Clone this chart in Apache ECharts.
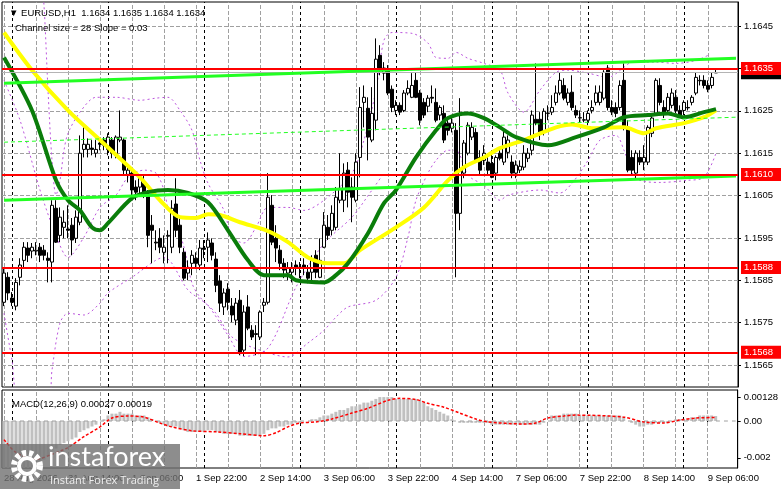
<!DOCTYPE html>
<html>
<head>
<meta charset="utf-8">
<script src="https://cdn.jsdelivr.net/npm/echarts@6.0.0/dist/echarts.min.js"></script>
<style>
  html, body { margin: 0; padding: 0; background: #fff; }
  #chart { width: 781px; height: 489px; }
</style>
</head>
<body>
<div id="chart"></div>
<script>
const FONT = '"Liberation Sans", Arial, sans-serif';

// trading sessions shown on the chart (first bars are 28 Aug 22:00 and 23:00)
const sessionDays = ['31 Aug', '1 Sep', '2 Sep', '3 Sep', '4 Sep', '7 Sep', '8 Sep', '9 Sep'];
const xTickLabels = ['28 Aug 2026', '31 Aug 14:00', '1 Sep 06:00', '1 Sep 22:00', '2 Sep 14:00',
  '3 Sep 06:00', '3 Sep 22:00', '4 Sep 14:00', '7 Sep 06:00', '7 Sep 22:00', '8 Sep 14:00', '9 Sep 06:00'];
const priceTicks = [1.1565, 1.1575, 1.1585, 1.1595, 1.1605, 1.1615, 1.1625, 1.1635, 1.1645];
const levels = [1.1635, 1.1610, 1.1588, 1.1568];
const lastPrice = 1.1634;
const macdTicks = [0.00128, 0, -0.002];
const macdTickText = ['0.00128', '0.00', '-0.002'];

// EURUSD H1 bars: [open, high, low, close]
const candles = [
  [1.15798,1.15879,1.15789,1.15867],[1.15857,1.15869,1.15803,1.15820],[1.15808,1.15822,1.15789,1.15798],
  [1.15789,1.15855,1.15779,1.15845],[1.15857,1.15902,1.15838,1.15886],[1.15897,1.15940,1.15879,1.15928],
  [1.15926,1.15940,1.15893,1.15909],[1.15919,1.15938,1.15902,1.15928],[1.15919,1.15940,1.15909,1.15921],
  [1.15928,1.15938,1.15893,1.15909],[1.15921,1.15933,1.15897,1.15909],[1.15902,1.15916,1.15845,1.15897],
  [1.15893,1.16039,1.15845,1.16027],[1.16020,1.16039,1.15938,1.15940],[1.15956,1.16022,1.15940,1.15999],
  [1.15975,1.16015,1.15949,1.15987],[1.15971,1.16027,1.15949,1.15968],[1.15980,1.15997,1.15909,1.15945],
  [1.15949,1.16015,1.15938,1.15999],[1.15987,1.16192,1.15980,1.16150],[1.16159,1.16211,1.16140,1.16171],
  [1.16159,1.16185,1.16140,1.16171],[1.16162,1.16181,1.16145,1.16159],[1.16150,1.16181,1.16140,1.16159],
  [1.16174,1.16185,1.16157,1.16171],[1.16181,1.16188,1.16157,1.16169],[1.16159,1.16197,1.16145,1.16188],
  [1.16181,1.16188,1.16138,1.16150],[1.16145,1.16192,1.16138,1.16188],[1.16181,1.16251,1.16176,1.16188],
  [1.16181,1.16185,1.16098,1.16110],[1.16100,1.16122,1.16081,1.16110],[1.16103,1.16110,1.16051,1.16063],
  [1.16070,1.16086,1.16039,1.16058],[1.16070,1.16098,1.16051,1.16091],[1.16079,1.16098,1.16044,1.16058],
  [1.16051,1.16063,1.15928,1.15956],[1.15980,1.16004,1.15890,1.15968],[1.15940,1.15968,1.15921,1.15938],
  [1.15949,1.15973,1.15914,1.15928],[1.15916,1.15956,1.15890,1.15928],[1.15954,1.15968,1.15890,1.15956],
  [1.15928,1.16039,1.15914,1.16020],[1.16030,1.16091,1.15952,1.15968],[1.15980,1.15997,1.15914,1.15928],
  [1.15916,1.15926,1.15850,1.15855],[1.15867,1.15897,1.15850,1.15879],[1.15890,1.15921,1.15862,1.15909],
  [1.15902,1.15916,1.15879,1.15890],[1.15886,1.15945,1.15874,1.15926],[1.15926,1.15945,1.15902,1.15923],
  [1.15928,1.15963,1.15893,1.15945],[1.15938,1.15949,1.15897,1.15909],[1.15900,1.15916,1.15822,1.15838],
  [1.15848,1.15862,1.15775,1.15796],[1.15787,1.15831,1.15768,1.15820],[1.15829,1.15843,1.15779,1.15798],
  [1.15789,1.15808,1.15751,1.15768],[1.15756,1.15808,1.15744,1.15796],[1.15803,1.15827,1.15673,1.15678],
  [1.15685,1.15791,1.15671,1.15775],[1.15787,1.15815,1.15732,1.15737],[1.15732,1.15744,1.15709,1.15716],
  [1.15722,1.15744,1.15673,1.15724],[1.15716,1.15779,1.15709,1.15775],[1.15791,1.15808,1.15775,1.15798],
  [1.15798,1.16103,1.15793,1.16046],[1.16027,1.16051,1.15933,1.15940],[1.15949,1.15980,1.15893,1.15926],
  [1.15921,1.15933,1.15874,1.15890],[1.15890,1.15902,1.15855,1.15874],[1.15867,1.15893,1.15850,1.15879],
  [1.15869,1.15893,1.15845,1.15879],[1.15886,1.15897,1.15862,1.15879],[1.15879,1.15893,1.15855,1.15881],
  [1.15886,1.15902,1.15862,1.15879],[1.15869,1.15886,1.15843,1.15855],[1.15869,1.15909,1.15850,1.15897],
  [1.15909,1.15921,1.15855,1.15869],[1.15857,1.15949,1.15855,1.15897],[1.15928,1.16011,1.15926,1.15980],
  [1.15975,1.16004,1.15945,1.15956],[1.15968,1.16027,1.15956,1.16008],[1.15975,1.16070,1.15968,1.16046],
  [1.16039,1.16150,1.16032,1.16067],[1.16039,1.16126,1.16011,1.16103],[1.16110,1.16129,1.16022,1.16058],
  [1.16070,1.16093,1.15987,1.16046],[1.16039,1.16150,1.16034,1.16129],[1.16140,1.16306,1.16093,1.16258],
  [1.16270,1.16310,1.16211,1.16282],[1.16256,1.16282,1.16133,1.16188],[1.16181,1.16306,1.16176,1.16244],
  [1.16228,1.16421,1.16204,1.16372],[1.16381,1.16405,1.16334,1.16346],[1.16339,1.16365,1.16322,1.16351],
  [1.16346,1.16358,1.16287,1.16292],[1.16301,1.16310,1.16247,1.16258],[1.16251,1.16275,1.16240,1.16263],
  [1.16263,1.16270,1.16240,1.16247],[1.16251,1.16299,1.16247,1.16292],[1.16292,1.16322,1.16287,1.16303],
  [1.16282,1.16339,1.16280,1.16310],[1.16322,1.16341,1.16280,1.16282],[1.16292,1.16299,1.16216,1.16228],
  [1.16270,1.16280,1.16233,1.16240],[1.16261,1.16287,1.16247,1.16280],[1.16282,1.16310,1.16268,1.16280],
  [1.16270,1.16303,1.16223,1.16228],[1.16240,1.16263,1.16228,1.16258],[1.16244,1.16263,1.16174,1.16181],
  [1.16221,1.16233,1.16192,1.16204],[1.16209,1.16233,1.16199,1.16221],[1.16204,1.16221,1.15857,1.16008],
  [1.16008,1.16280,1.15968,1.16110],[1.16103,1.16181,1.16091,1.16174],[1.16150,1.16223,1.16145,1.16216],
  [1.16188,1.16223,1.16181,1.16211],[1.16199,1.16209,1.16129,1.16133],[1.16140,1.16157,1.16098,1.16110],
  [1.16133,1.16169,1.16122,1.16150],[1.16129,1.16145,1.16098,1.16110],[1.16126,1.16157,1.16091,1.16093],
  [1.16103,1.16145,1.16086,1.16140],[1.16150,1.16162,1.16133,1.16138],[1.16129,1.16204,1.16122,1.16188],
  [1.16152,1.16192,1.16138,1.16181],[1.16129,1.16145,1.16091,1.16103],[1.16103,1.16133,1.16091,1.16122],
  [1.16110,1.16133,1.16103,1.16119],[1.16117,1.16169,1.16110,1.16150],[1.16138,1.16162,1.16129,1.16150],
  [1.16157,1.16251,1.16145,1.16240],[1.16230,1.16362,1.16216,1.16221],[1.16230,1.16247,1.16181,1.16199],
  [1.16199,1.16256,1.16192,1.16249],[1.16244,1.16263,1.16228,1.16245],[1.16247,1.16287,1.16240,1.16258],
  [1.16270,1.16310,1.16263,1.16292],[1.16292,1.16341,1.16287,1.16322],[1.16310,1.16327,1.16275,1.16280],
  [1.16270,1.16303,1.16263,1.16292],[1.16294,1.16334,1.16251,1.16258],[1.16251,1.16263,1.16233,1.16240],
  [1.16233,1.16251,1.16223,1.16234],[1.16228,1.16247,1.16223,1.16229],[1.16228,1.16251,1.16216,1.16244],
  [1.16251,1.16275,1.16244,1.16258],[1.16270,1.16310,1.16263,1.16292],[1.16270,1.16310,1.16263,1.16294],
  [1.16280,1.16346,1.16275,1.16341],[1.16351,1.16358,1.16251,1.16258],[1.16258,1.16275,1.16240,1.16247],
  [1.16258,1.16270,1.16235,1.16244],[1.16258,1.16322,1.16251,1.16310],[1.16322,1.16362,1.16204,1.16211],
  [1.16211,1.16228,1.16105,1.16110],[1.16140,1.16157,1.16098,1.16110],[1.16103,1.16157,1.16091,1.16150],
  [1.16140,1.16157,1.16122,1.16129],[1.16129,1.16169,1.16110,1.16140],[1.16129,1.16216,1.16122,1.16211],
  [1.16197,1.16240,1.16188,1.16233],[1.16244,1.16327,1.16240,1.16322],[1.16310,1.16327,1.16263,1.16270],
  [1.16258,1.16275,1.16233,1.16244],[1.16251,1.16292,1.16244,1.16282],[1.16263,1.16303,1.16256,1.16292],
  [1.16282,1.16299,1.16244,1.16251],[1.16251,1.16263,1.16233,1.16240],[1.16251,1.16275,1.16240,1.16270],
  [1.16258,1.16275,1.16251,1.16257],[1.16270,1.16287,1.16263,1.16282],[1.16292,1.16341,1.16287,1.16329],
  [1.16322,1.16334,1.16310,1.16321],[1.16322,1.16334,1.16303,1.16310],[1.16310,1.16322,1.16294,1.16301],
  [1.16310,1.16341,1.16303,1.16329],[1.16340,1.16350,1.16340,1.16340]
];

// moving averages, read as [bar index, price]
const maSlow = [[0,1.16435],[7,1.16346],[16,1.16251],[24,1.16181],[34,1.16093],[39,1.16039],[44,1.15999],
  [48,1.15997],[51,1.16006],[54,1.16004],[59,1.15987],[66,1.15966],[71,1.15940],[76,1.15904],[81,1.15890],
  [85,1.15890],[89,1.15921],[98,1.15975],[105,1.16022],[111,1.16086],[115,1.16117],[120,1.16140],[124,1.16162],
  [130,1.16181],[138,1.16211],[142,1.16218],[147,1.16209],[155,1.16211],[160,1.16197],[163,1.16209],
  [170,1.16221],[175,1.16235],[178,1.16251]];
const maFast = [[0,1.16376],[7,1.16251],[13,1.16086],[16,1.16039],[19,1.16015],[22,1.15975],[24,1.15968],
  [26,1.15985],[32,1.16044],[36,1.16058],[41,1.16063],[46,1.16056],[51,1.16034],[56,1.15968],[61,1.15897],
  [65,1.15862],[71,1.15862],[73,1.15850],[80,1.15845],[83,1.15862],[86,1.15890],[91,1.15961],[95,1.16032],
  [98,1.16063],[103,1.16140],[108,1.16204],[111,1.16233],[116,1.16244],[120,1.16233],[124,1.16211],
  [128,1.16188],[136,1.16169],[143,1.16188],[150,1.16211],[155,1.16235],[161,1.16240],[166,1.16244],
  [170,1.16235],[175,1.16247],[178,1.16254]];

// regression channel (size 28, slope 0.03)
const chanUpper = [[0,1.16315],[183,1.16374]];
const chanMid = [[0,1.16176],[183,1.16235]];
const chanLower = [[0,1.16039],[183,1.16096]];

// band lines (purple dotted)
const bandUpper = [[9,1.1660],[10,1.16499],[11,1.16299],[12,1.16133],[13,1.16051],[14,1.16086],[15,1.16157],
  [16,1.16197],[19,1.16247],[23,1.16282],[28,1.16282],[34,1.16275],[38,1.16280],[41,1.16282],[44,1.16251],
  [47,1.16204],[49,1.16133],[51,1.16079],[55,1.16015],[57,1.15952],[60,1.15938],[63,1.15975],[66,1.16022],
  [71,1.16022],[75,1.16015],[80,1.16039],[87,1.16103],[90,1.16181],[93,1.16299],[95,1.16417],[97,1.16435],
  [102,1.16433],[106,1.16410],[108,1.16376],[111,1.16374],[113,1.16388],[116,1.16374],[120,1.16362],
  [124,1.16346],[126,1.16292],[130,1.16247],[134,1.16299],[138,1.16341],[141,1.16346],[146,1.16339],
  [151,1.16329],[155,1.16353],[157,1.16365],[163,1.16365],[168,1.16362],[173,1.16369],[176,1.16381]];
const bandMid = [[0,1.16322],[4,1.16228],[9,1.16063],[13,1.15956],[16,1.15904],[20,1.15952],[24,1.16022],
  [28,1.16051],[31,1.16093],[35,1.16110],[38,1.16103],[40,1.16063],[41,1.16022],[43,1.15985],[45,1.15928],
  [47,1.15843],[49,1.15810],[53,1.15772],[57,1.15716],[64,1.15685],[71,1.15669],[76,1.15702],[80,1.15732],
  [83,1.15763],[86,1.15787],[93,1.15803],[98,1.15857],[101,1.15952],[103,1.16039],[106,1.16103],
  [108,1.16133],[111,1.16157],[113,1.16157],[116,1.16098],[120,1.16074],[124,1.16039],[126,1.16051],
  [134,1.16063],[139,1.16056],[142,1.16079],[146,1.16133],[149,1.16181],[153,1.16192],[155,1.16157],
  [158,1.16091],[164,1.16081],[171,1.16086],[175,1.16093],[178,1.16150]];
const bandLower = [[0,1.15772],[2,1.15661],[4,1.15560],[11,1.15560],[12,1.15638],[14,1.15749],[16,1.15772],
  [20,1.15768],[24,1.15796],[26,1.15820],[32,1.15857],[40,1.15904],[46,1.15827],[51,1.15790],[56,1.15720],
  [60,1.15670],[66,1.15690],[73,1.15834],[80,1.15937],[87,1.15999],[92,1.16063],[95,1.16103]];

// MACD(12,26,9): histogram per bar and signal line
const macdHist = [
  -0.0028,-0.0029,-0.0030,-0.0030,-0.0029,-0.0028,-0.0027,-0.0026,-0.0024,-0.0022,
  -0.0021,-0.0019,-0.0016,-0.0015,-0.0013,-0.0012,-0.0011,-0.0010,-0.0009,-0.0006,
  -0.0005,-0.0004,-0.0003,-0.0002,0.0000,0.0001,0.0003,0.0004,0.0004,0.0005,
  0.0004,0.0004,0.0004,0.0003,0.0003,0.0003,0.0002,0.0001,0.0000,-0.0001,
  -0.0002,-0.0003,-0.0003,-0.0003,-0.0004,-0.0005,-0.0006,-0.0006,-0.0006,-0.0006,
  -0.0006,-0.0005,-0.0005,-0.0006,-0.0006,-0.0007,-0.0007,-0.0007,-0.0007,-0.0008,
  -0.0008,-0.0008,-0.0008,-0.0008,-0.0008,-0.0007,-0.0005,-0.0004,-0.0004,-0.0003,
  -0.0003,-0.0002,-0.0002,-0.0001,-0.0001,0.0000,0.0000,0.0001,0.0001,0.0002,
  0.0003,0.0003,0.0004,0.0005,0.0006,0.0006,0.0007,0.0008,0.0008,0.0009,
  0.0010,0.0010,0.0011,0.0012,0.0013,0.0013,0.0013,0.0013,0.0012,0.0012,
  0.0012,0.0012,0.0012,0.0012,0.0011,0.0010,0.0008,0.0007,0.0006,0.0005,
  0.0004,0.0003,0.0001,0.0000,-0.0001,-0.0001,-0.0001,-0.0001,-0.0001,-0.0001,
  -0.0001,-0.0001,-0.0002,-0.0002,-0.0002,-0.0002,-0.0002,-0.0002,-0.0002,-0.0002,
  -0.0002,-0.0002,-0.0002,-0.0002,-0.0002,-0.0001,0.0000,0.0003,0.0003,0.0003,
  0.0004,0.0004,0.0004,0.0004,0.0003,0.0003,0.0003,0.0003,0.0003,0.0003,
  0.0003,0.0003,0.0003,0.0003,0.0003,0.0002,0.0000,-0.0001,-0.0002,-0.0003,
  -0.0003,-0.0002,-0.0002,-0.0001,-0.0001,-0.0001,-0.0001,0.0000,0.0001,0.0001,
  0.0001,0.0001,0.0002,0.0002,0.0003,0.0003,0.0003,0.0003,0.00027
];
const macdSignal = [[0,-0.00101],[3,-0.00171],[8,-0.00208],[12,-0.00181],[16,-0.00144],[20,-0.00085],
  [24,-0.00032],[27,0.00016],[31,0.00027],[35,0.00021],[39,-0.00011],[42,-0.00032],[47,-0.00053],
  [53,-0.00059],[59,-0.00069],[65,-0.00080],[68,-0.00064],[71,-0.00032],[74,-0.00011],[78,-0.00005],
  [82,0.00011],[87,0.00043],[91,0.00069],[96,0.00112],[99,0.00123],[103,0.00117],[106,0.00096],
  [110,0.00075],[114,0.00043],[118,0.00011],[121,-0.00005],[130,-0.00016],[133,-0.00011],[136,0.00016],
  [140,0.00027],[143,0.00032],[155,0.00021],[160,-0.00005],[165,-0.00011],[169,0.00005],[173,0.00016],
  [178,0.00019]];

// hourly categories, padded past the last bar
const N = 184;
const pad = h => (h < 10 ? '0' : '') + h;
const categories = [];
for (let j = 0; j < N; j++) {
  const k = j - 2;
  categories.push(k < 0 ? '28 Aug ' + pad(24 + k) + ':00'
    : sessionDays[Math.floor(k / 24)] + ' ' + pad(k % 24) + ':00');
}
const gridCols = categories.map((c, j) => j).filter(j => j % 8 === 0);
const dayStarts = categories.map((c, j) => j).filter(j => j >= 2 && (j - 2) % 24 === 0);
const showTick = i => i % 16 === 0 && i / 16 < xTickLabels.length;

const MAIN = { top: 2, height: 385, min: 1.15598, max: 1.16507 };
const MACD = { top: 390, height: 78, min: -0.002554, max: 0.001685 };

const grayDash = () => ({ color: '#a0a0a0', type: 'dashed', dashOffset: 0, width: 1 });
const blackDash = () => ({ color: '#000', type: [3, 3], width: 1 });

// invisible carrier series for vertical reference lines / price tags
function helper(axis, anchor, z, lines, lineStyle, label) {
  return {
    type: 'line', xAxisIndex: axis, yAxisIndex: axis, data: [[0, anchor]], silent: true,
    symbol: 'none', lineStyle: { opacity: 0 }, z: z,
    markLine: { silent: true, symbol: ['none', 'none'], z: z, animation: false, precision: 6,
      lineStyle: lineStyle || {}, label: label || { show: false }, data: lines }
  };
}
// horizontal gridlines: one line per tick, spanning every category
function hgrid(axis, value) {
  return { type: 'line', xAxisIndex: axis, yAxisIndex: axis, silent: true, symbol: 'none', z: 2,
    data: categories.map(() => value), lineStyle: { color: '#a0a0a0', width: 1, type: [4, 4] } };
}
function band(data) {
  return { type: 'line', data: data, smooth: 0.3, symbol: 'none', silent: true, z: 2,
    lineStyle: { color: '#bb55dd', width: 1, type: [2, 3] } };
}
const tagLabel = bg => ({ show: true, position: 'end', distance: 3, formatter: p => Number(p.value).toFixed(4),
  color: '#fff', backgroundColor: bg, padding: [2, 8, 1, 3], fontSize: 9.5, fontFamily: FONT });

const chart = echarts.init(document.getElementById('chart'));
chart.setOption({
  animation: false,
  backgroundColor: '#fff',
  title: [
    { text: '\u25BC EURUSD,H1  1.1634 1.1635 1.1634 1.1634', left: 4, top: 3,
      textStyle: { fontSize: 9.5, fontWeight: 'normal', color: '#000', fontFamily: FONT } },
    { text: 'Channel size = 28 Slope = 0.03', left: 10, top: 18,
      textStyle: { fontSize: 9.5, fontWeight: 'normal', color: '#000', fontFamily: FONT } },
    { text: 'MACD(12,26,9) 0.00027 0.00019', left: 7, top: 394,
      textStyle: { fontSize: 9.5, fontWeight: 'normal', color: '#000', fontFamily: FONT } }
  ],
  grid: [
    { left: 2, right: 43, top: MAIN.top, height: MAIN.height, show: true, borderColor: '#000', borderWidth: 1, backgroundColor: 'transparent' },
    { left: 2, right: 43, top: MACD.top, height: MACD.height, show: true, borderColor: '#000', borderWidth: 1, backgroundColor: 'transparent' }
  ],
  xAxis: [
    { type: 'category', gridIndex: 0, data: categories, boundaryGap: true,
      axisLine: { show: false }, axisTick: { show: false }, axisLabel: { show: false }, splitLine: { show: false } },
    { type: 'category', gridIndex: 1, data: categories, boundaryGap: true,
      axisLine: { show: false },
      axisTick: { show: true, interval: showTick, alignWithLabel: true, length: 3, lineStyle: { color: '#000' } },
      axisLabel: { interval: showTick, formatter: (v, i) => xTickLabels[i / 16], align: 'left',
        color: '#000', fontSize: 9.5, fontFamily: FONT, margin: 5 },
      splitLine: { show: false } }
  ],
  yAxis: [
    { type: 'value', gridIndex: 0, position: 'right', min: MAIN.min, max: MAIN.max, scale: true,
      splitLine: { show: true, lineStyle: grayDash() },
      axisLine: { show: true, lineStyle: { color: '#000' } },
      axisTick: { show: true, customValues: priceTicks, length: 3, lineStyle: { color: '#000' } },
      axisLabel: { customValues: priceTicks, formatter: v => v.toFixed(4), color: '#000',
        fontSize: 9.5, fontFamily: FONT, margin: 6 } },
    { type: 'value', gridIndex: 1, position: 'right', min: MACD.min, max: MACD.max,
      splitLine: { show: false }, axisLine: { show: true, lineStyle: { color: '#000' } },
      axisTick: { show: true, customValues: macdTicks, length: 3, lineStyle: { color: '#000' } },
      axisLabel: { customValues: macdTicks, formatter: v => macdTickText[macdTicks.indexOf(v)] || '',
        color: '#000', fontSize: 9.5, fontFamily: FONT, margin: 6 } }
  ],
  series: [
    // vertical grid and day separators
    helper(0, lastPrice, 2, gridCols.map(j => ({ xAxis: j })), grayDash()),
    helper(0, lastPrice, 2, dayStarts.map(j => ({ xAxis: j })), blackDash()),
    helper(1, 0, 2, gridCols.map(j => ({ xAxis: j })), grayDash()),
    helper(1, 0, 2, dayStarts.map(j => ({ xAxis: j })), blackDash()),
    hgrid(1, 0),

    band(bandUpper), band(bandMid), band(bandLower),

    { type: 'candlestick', xAxisIndex: 0, yAxisIndex: 0, z: 3, barWidth: 3,
      data: candles.map(c => [c[0], c[3], c[2], c[1]]),
      itemStyle: { color: '#fff', color0: '#000', borderColor: '#000', borderColor0: '#000', borderWidth: 1 } },

    { type: 'line', data: maSlow, smooth: 0.3, symbol: 'none', z: 4, silent: true,
      lineStyle: { color: '#ffff00', width: 4 } },
    { type: 'line', data: maFast, smooth: 0.3, symbol: 'none', z: 4, silent: true,
      lineStyle: { color: '#0a7d0a', width: 4 } },

    { type: 'line', data: chanUpper, symbol: 'none', z: 6, silent: true, lineStyle: { color: '#22ff22', width: 3 } },
    { type: 'line', data: chanMid, symbol: 'none', z: 6, silent: true, lineStyle: { color: '#22ff22', width: 1, type: [4, 3] } },
    { type: 'line', data: chanLower, symbol: 'none', z: 6, silent: true, lineStyle: { color: '#22ff22', width: 3 } },

    // last price line with its axis tag, then support / resistance levels
    helper(0, lastPrice, 5, [{ yAxis: lastPrice }], { color: '#b4b4b4', width: 1, type: 'solid' }, tagLabel('#000')),
    helper(0, lastPrice, 7, levels.map(v => ({ yAxis: v })), { color: '#ff0000', width: 2, type: 'solid' }, tagLabel('#ff0000')),

    { type: 'bar', xAxisIndex: 1, yAxisIndex: 1, data: macdHist, barWidth: 3, z: 2, silent: true,
      itemStyle: { color: '#c0c0c0' } },
    { type: 'line', xAxisIndex: 1, yAxisIndex: 1, data: macdSignal, smooth: 0.3, symbol: 'none', z: 3, silent: true,
      lineStyle: { color: '#ff0000', width: 1.5, type: [3, 2] } }
  ],
  graphic: [
    { type: 'rect', left: 0, top: 444, shape: { width: 180, height: 45 }, z: 100,
      style: { fill: 'rgba(112,112,112,0.8)' } },
    { type: 'circle', shape: { cx: 27, cy: 466, r: 13 }, z: 101,
      style: { fill: 'none', stroke: '#fff', lineWidth: 6, lineDash: [4, 3] } },
    { type: 'circle', shape: { cx: 27, cy: 466, r: 8 }, z: 101,
      style: { fill: 'none', stroke: '#fff', lineWidth: 4 } },
    { type: 'text', left: 48, top: 444, z: 101,
      style: { text: 'instaforex', fill: '#fff', font: '27px Lato, "Open Sans", sans-serif' } },
    { type: 'text', left: 50, top: 475, z: 101,
      style: { text: 'Instant Forex Trading', fill: '#eeeeee', font: '11px "Open Sans", sans-serif' } }
  ]
});
</script>
</body>
</html>
